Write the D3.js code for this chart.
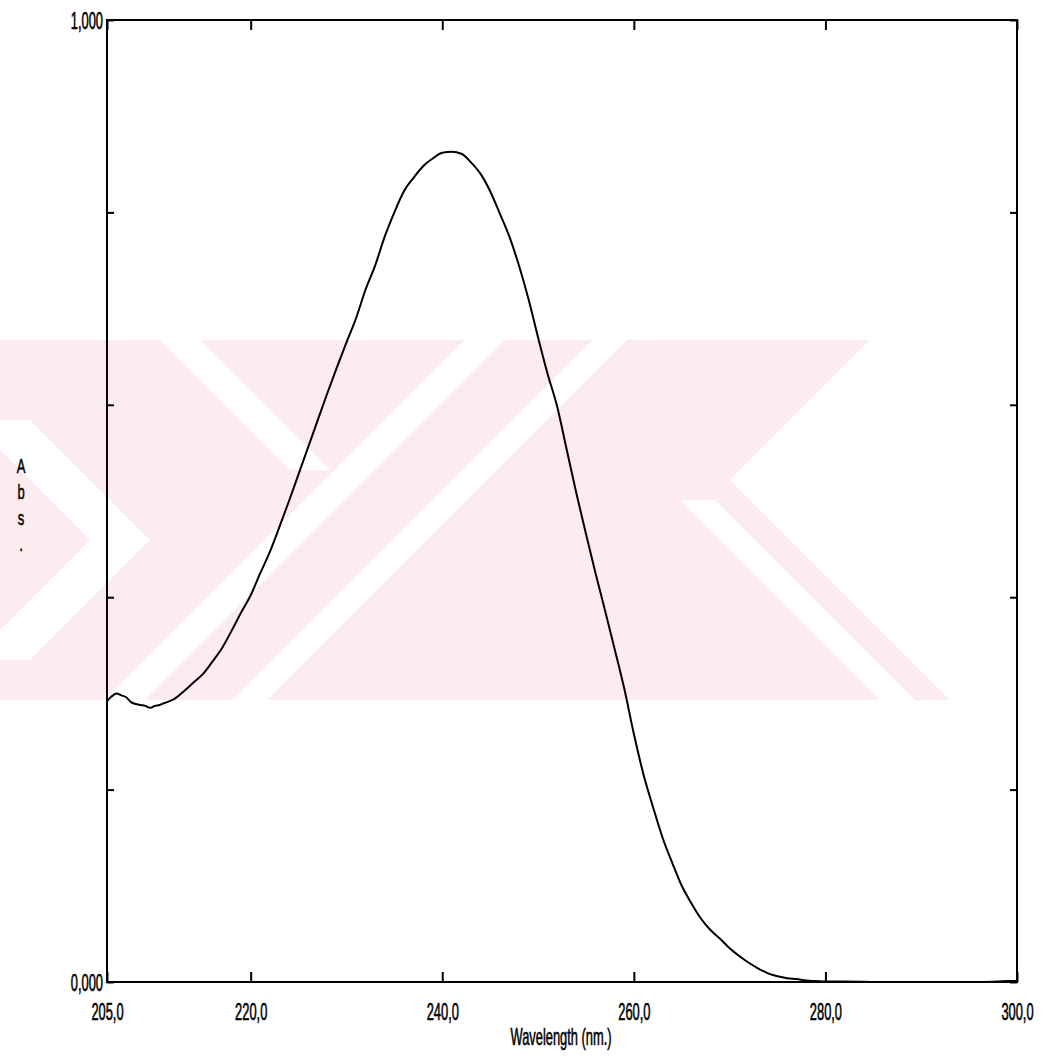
<!DOCTYPE html>
<html><head><meta charset="utf-8">
<script src="https://cdn.jsdelivr.net/npm/d3@7"></script>
<style>body{margin:0;background:#fff}svg{display:block}</style>
</head><body>
<svg id="c" width="1045" height="1059"></svg>
<script>
const wavelength = [205,205.5,206,206.5,207,207.5,208,208.5,209,209.5,210,210.5,211,212,213,214,215,216,217,218,219,220,221,222,223,224,225,226,227,228,229,230,231,232,233,234,235,236,237,238,239,240,241,242,243,244,245,246,247,248,249,250,251,252,253,254,255,256,257,258,259,260,261,262,263,264,265,266,267,268,269,270,271,272,273,274,275,276,277,278,279,280,281,282,284,286,288,290,292,294,296,298,299,300];
const absorbance = [0.292,0.297,0.300,0.298,0.296,0.291,0.289,0.288,0.287,0.285,0.287,0.288,0.290,0.294,0.302,0.311,0.320,0.333,0.347,0.365,0.384,0.402,0.425,0.447,0.473,0.500,0.528,0.556,0.584,0.612,0.639,0.665,0.690,0.720,0.745,0.775,0.800,0.822,0.836,0.848,0.856,0.862,0.863,0.861,0.852,0.840,0.822,0.799,0.775,0.745,0.710,0.670,0.632,0.598,0.553,0.508,0.466,0.425,0.386,0.346,0.305,0.258,0.216,0.182,0.150,0.124,0.100,0.082,0.066,0.054,0.045,0.035,0.027,0.020,0.014,0.009,0.006,0.004,0.003,0.0015,0.001,0.0005,0.0005,0.0004,0.0002,0,0,0,0,0,0,0.0005,0.001,0.001];
const xTickValues = [205,220,240,260,280,300];
const xTickLabels = ["205,0","220,0","240,0","260,0","280,0","300,0"];
const yTickValues = [0,0.2,0.4,0.6,0.8,1.0];
const yTickLabels = ["0,000","","","","","1,000"];
const xTitle = "Wavelength (nm.)";
const yTitle = ["A","b","s","."];

const svg = d3.select("#c");
const L=107,R=1017,T=20,B=982;
const x = d3.scaleLinear().domain([205,300]).range([L,R]);
const y = d3.scaleLinear().domain([0,1]).range([B,T]);
const font = "'Liberation Sans',Arial,sans-serif";
const SX = 0.56; // narrow lettering
const FS = "23px";

// watermark (decorative background logo)
const clip = svg.append("clipPath").attr("id","band");
clip.append("rect").attr("x",0).attr("y",340).attr("width",1045).attr("height",360);
const wg = svg.append("g").attr("clip-path","url(#band)");
wg.append("polygon").attr("points","0,340 870,340 730,480 950,700 0,700").attr("fill","#fdecef");
const white = [
  [[160,340],[200,340],[330,470],[290,470]],
  [[105,700],[145,700],[505,340],[465,340]],
  [[233,700],[267,700],[627,340],[593,340]],
  [[0,420],[30,420],[150,540],[30,660],[0,660],[0,630],[90,540],[0,450]],
  [[680,500],[715,500],[915,700],[880,700]]
];
white.forEach(p=>wg.append("polygon").attr("points",p.map(d=>d.join(",")).join(" ")).attr("fill","#fff"));

// curve
const line = d3.line().x((d,i)=>x(wavelength[i])).y(d=>y(d)).curve(d3.curveMonotoneX);
svg.append("path").datum(absorbance).attr("d",line).attr("fill","none").attr("stroke","#000").attr("stroke-width",2).attr("stroke-linejoin","round");

// frame
svg.append("rect").attr("x",L).attr("y",T).attr("width",R-L).attr("height",B-T).attr("fill","none").attr("stroke","#000").attr("stroke-width",2);

// axes
const axB = d3.axisBottom(x).tickValues(xTickValues).tickSize(-10).tickFormat((d,i)=>xTickLabels[i]).tickPadding(22);
const gb = svg.append("g").attr("transform",`translate(0,${B})`).call(axB);
const axT = d3.axisTop(x).tickValues(xTickValues).tickSize(-10).tickFormat("");
const gt = svg.append("g").attr("transform",`translate(0,${T})`).call(axT);
const axL = d3.axisLeft(y).tickValues(yTickValues).tickSize(-7).tickFormat((d,i)=>yTickLabels[i]).tickPadding(0);
const gl = svg.append("g").attr("transform",`translate(${L},0)`).call(axL);
const axR = d3.axisRight(y).tickValues(yTickValues).tickSize(-7).tickFormat("");
const gr = svg.append("g").attr("transform",`translate(${R},0)`).call(axR);
[gb,gt,gl,gr].forEach(g=>{
  g.select(".domain").remove();
  g.selectAll(".tick line").attr("stroke","#000").attr("stroke-width",2);
  g.selectAll("text").attr("fill","#000").style("font-family",font).style("font-size",FS)
    .attr("stroke","#000").attr("stroke-width",0.6);
});
gb.selectAll("text").attr("transform",`scale(${SX},1)`);
gl.selectAll("text").attr("dy","0.36em").attr("x",-4/SX).attr("transform",`scale(${SX},1)`);

svg.append("text").attr("transform",`translate(561,1045) scale(${SX},1)`).attr("text-anchor","middle")
  .style("font-family",font).style("font-size",FS).attr("stroke","#000").attr("stroke-width",0.6).text(xTitle);
yTitle.forEach((t,i)=>svg.append("text").attr("transform",`translate(21,${473+i*26}) scale(0.62,1)`).attr("text-anchor","middle")
  .style("font-family",font).style("font-size","21px").attr("stroke","#000").attr("stroke-width",0.5).text(t));
</script>
</body></html>
